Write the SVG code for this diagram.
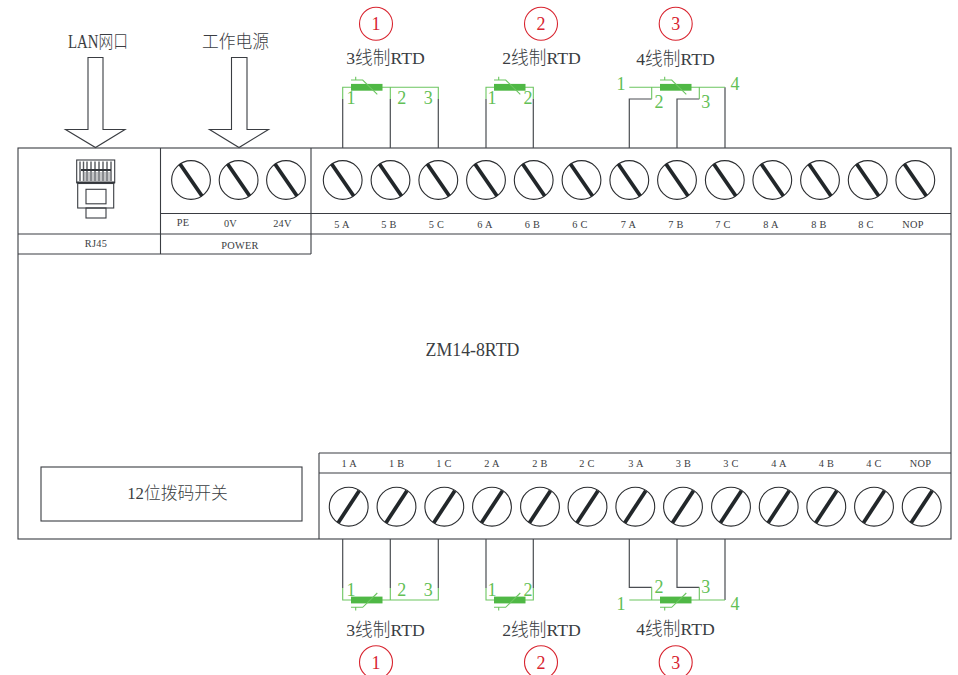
<svg xmlns="http://www.w3.org/2000/svg" width="958" height="675" viewBox="0 0 958 675">
<style>
text{font-family:"Liberation Serif","Noto Sans CJK SC",serif;text-anchor:middle}
.ln{fill:none;stroke:#3a3d42;stroke-width:1.1}
.w{fill:none;stroke:#4a4d52;stroke-width:1.2}
.g{fill:none;stroke:#6cc560;stroke-width:1.1}
.gb{fill:#4fb845;stroke:none}
.ts{font-size:10.3px;fill:#3a3d42;letter-spacing:.3px}
.tt{font-size:17.7px;fill:#3a3d42;font-weight:300}
.tg{font-size:18px;fill:#62c055}
.tr{font-size:18px;fill:#d8242f}
.rc{fill:none;stroke:#d8242f;stroke-width:1.1}
.sc{fill:#fff;stroke:#2b2d30;stroke-width:1.1}
.sl{stroke:#22272a;stroke-width:3.8}
</style>
<defs>
<g id="st"><circle class="sc" r="19.4"/><line class="sl" x1="-11" y1="-16" x2="11" y2="16"/></g>
<g id="sb"><circle class="sc" r="19.4"/><line class="sl" x1="-10.5" y1="16" x2="10.5" y2="-16"/></g>
<g id="rtd"><rect class="gb" x="0" y="-3.4" width="31.5" height="6.8"/><path class="g" d="M0-7.3H11.7L26.3 7M4.7-7.3V-10.6"/></g>
</defs>
<rect width="958" height="675" fill="#fff"/>
<g id="body">
<rect class="ln" x="18" y="148" width="933" height="391"/>
<path class="ln" d="M160.500 148V254M311 148V254M18 234H951M18 254H311M160.500 213.500H951M319 453V539M319 453H951M319 473H951"/>
</g>
<g id="rj45">
<rect class="ln" x="76.700" y="160" width="38" height="22.700"/>
<path d="M80 161.500V181M83.500 161.500V181M87 161.500V181M91 161.500V181M95 161.500V181M99 161.500V181M103 161.500V181M107 161.500V181M111 161.500V181" stroke="#55585c" stroke-width="1.400" fill="none"/>
<rect x="81" y="169" width="30" height="2" fill="#33363b"/>
<rect x="83" y="172" width="28" height="9" fill="#8a8c90" opacity=".5"/>
<rect x="76.700" y="181.500" width="38" height="2" fill="#33363b"/>
<rect class="ln" x="77.700" y="183.500" width="36" height="24.500"/>
<rect class="ln" x="86" y="189.300" width="20" height="14.500"/>
<rect class="ln" x="86" y="208" width="20" height="10"/>
<text class="ts" x="96" y="247">RJ45</text>
</g>
<g id="lan-arrow">
<path class="ln" d="M88 57.500H103V129.500H125L95.500 147.500L65.500 129.500H88Z"/>
<text class="tt" x="98" y="48" textLength="60" lengthAdjust="spacingAndGlyphs" style="font-size:18.500px">LAN网口</text>
</g>
<g id="power-arrow">
<path class="ln" d="M231.500 57.500H247V129.500H268.500L239 147.500L209.500 129.500H231.500Z"/>
<text class="tt" x="235.500" y="48" textLength="67" lengthAdjust="spacingAndGlyphs">工作电源</text>
</g>
<g id="power">
<use href="#st" x="191" y="180"/><use href="#st" x="238.600" y="180"/><use href="#st" x="286" y="180"/>
<text class="ts" x="183" y="226">PE</text><text class="ts" x="230.500" y="227">0V</text><text class="ts" x="282.500" y="227">24V</text>
<text class="ts" x="240" y="249">POWER</text>
</g>
<g id="terminals-top">
<use href="#st" x="342.700" y="180"/><use href="#st" x="390.500" y="180"/><use href="#st" x="438.300" y="180"/><use href="#st" x="486" y="180"/><use href="#st" x="533.700" y="180"/><use href="#st" x="581.500" y="180"/><use href="#st" x="629.300" y="180"/><use href="#st" x="677" y="180"/><use href="#st" x="724.800" y="180"/><use href="#st" x="772.300" y="180"/><use href="#st" x="820" y="180"/><use href="#st" x="867.700" y="180"/><use href="#st" x="915.300" y="180"/>
<text class="ts" x="342" y="228">5 A</text><text class="ts" x="389" y="228">5 B</text><text class="ts" x="436.500" y="228">5 C</text><text class="ts" x="485" y="228">6 A</text><text class="ts" x="532.500" y="228">6 B</text><text class="ts" x="580" y="228">6 C</text><text class="ts" x="628.500" y="228">7 A</text><text class="ts" x="676" y="228">7 B</text><text class="ts" x="723" y="228">7 C</text><text class="ts" x="771" y="228">8 A</text><text class="ts" x="819" y="228">8 B</text><text class="ts" x="866" y="228">8 C</text><text class="ts" x="913" y="228">NOP</text>
</g>
<g id="terminals-bottom">
<use href="#sb" x="348.700" y="506.700"/><use href="#sb" x="396.500" y="506.700"/><use href="#sb" x="444.300" y="506.700"/><use href="#sb" x="492" y="506.700"/><use href="#sb" x="540" y="506.700"/><use href="#sb" x="587.500" y="506.700"/><use href="#sb" x="635.300" y="506.700"/><use href="#sb" x="683" y="506.700"/><use href="#sb" x="731" y="506.700"/><use href="#sb" x="778.700" y="506.700"/><use href="#sb" x="826.300" y="506.700"/><use href="#sb" x="874" y="506.700"/><use href="#sb" x="921.700" y="506.700"/>
<text class="ts" x="349.300" y="467">1 A</text><text class="ts" x="396.700" y="467">1 B</text><text class="ts" x="444" y="467">1 C</text><text class="ts" x="492" y="467">2 A</text><text class="ts" x="540" y="467">2 B</text><text class="ts" x="587" y="467">2 C</text><text class="ts" x="636" y="467">3 A</text><text class="ts" x="683.500" y="467">3 B</text><text class="ts" x="731" y="467">3 C</text><text class="ts" x="779" y="467">4 A</text><text class="ts" x="826.500" y="467">4 B</text><text class="ts" x="874" y="467">4 C</text><text class="ts" x="920.500" y="467">NOP</text>
</g>
<g id="model"><text class="tt" x="472.500" y="356" style="font-size:17.800px">ZM14-8RTD</text></g>
<g id="dip-switch">
<rect class="ln" x="41" y="467" width="261" height="54"/>
<text class="tt" x="177.500" y="499" style="font-size:16.800px">12位拨码开关</text>
</g>
<g id="connectors">
<path class="w" d="M342.700 148V99M390.300 148V99M438.300 148V99M486 148V99M533.300 148V99"/>
<path class="g" d="M342.700 99V87.300H438.300V99M390.300 87.300V99M486 99V87.300H533.300V99"/>
<path class="w" d="M651.700 99H629.300V148M699.300 99H677V148M725 87.300V148"/>
<path class="g" d="M629.300 87.300H725M651.700 87.300V99M699.300 87.300V99"/>
<path class="w" d="M342.700 539V588M390.300 539V588M438.300 539V588M486 539V588M533.300 539V588"/>
<path class="g" d="M342.700 588V600H438.300V588M390.300 600V588M486 588V600H533.300V588"/>
<path class="w" d="M651.700 587.300H629.300V539M699.300 587.300H677V539M725 600V539"/>
<path class="g" d="M629.300 600H725M651.700 600V587.300M699.300 600V587.300"/>
</g>
<g id="rtd-top-1">
<use href="#rtd" x="351" y="87.300"/>
<text class="tg" x="351" y="104">1</text><text class="tg" x="401.700" y="104">2</text><text class="tg" x="428.300" y="104">3</text>
<text class="tt" x="385.500" y="64">3线制RTD</text>
<circle class="rc" cx="376" cy="23.700" r="16.500"/><text class="tr" x="376" y="30">1</text>
</g>
<g id="rtd-top-2">
<use href="#rtd" x="494" y="87.300"/>
<text class="tg" x="492" y="104">1</text><text class="tg" x="528" y="104">2</text>
<text class="tt" x="541.500" y="64">2线制RTD</text>
<circle class="rc" cx="541" cy="23.700" r="16.500"/><text class="tr" x="541" y="30">2</text>
</g>
<g id="rtd-top-3">
<use href="#rtd" x="660" y="87.300"/>
<text class="tg" x="621" y="90">1</text><text class="tg" x="659" y="108">2</text><text class="tg" x="705.700" y="108">3</text><text class="tg" x="735" y="90">4</text>
<text class="tt" x="675.500" y="65">4线制RTD</text>
<circle class="rc" cx="675.700" cy="23.700" r="16.500"/><text class="tr" x="675.700" y="30">3</text>
</g>
<g id="rtd-bottom-1">
<use href="#rtd" transform="translate(351 600) scale(1 -1)"/>
<text class="tg" x="351" y="596">1</text><text class="tg" x="401.700" y="596">2</text><text class="tg" x="428.300" y="596">3</text>
<text class="tt" x="385.500" y="636">3线制RTD</text>
<circle class="rc" cx="376" cy="662.300" r="16.500"/><text class="tr" x="376" y="668.500">1</text>
</g>
<g id="rtd-bottom-2">
<use href="#rtd" transform="translate(494 600) scale(1 -1)"/>
<text class="tg" x="492" y="596">1</text><text class="tg" x="528" y="596">2</text>
<text class="tt" x="541.500" y="636">2线制RTD</text>
<circle class="rc" cx="541" cy="662.300" r="16.500"/><text class="tr" x="541" y="668.500">2</text>
</g>
<g id="rtd-bottom-3">
<use href="#rtd" transform="translate(660 600) scale(1 -1)"/>
<text class="tg" x="621" y="610">1</text><text class="tg" x="659" y="593">2</text><text class="tg" x="705.700" y="593">3</text><text class="tg" x="735" y="610">4</text>
<text class="tt" x="675.500" y="635">4线制RTD</text>
<circle class="rc" cx="675.700" cy="662.300" r="16.500"/><text class="tr" x="675.700" y="668.500">3</text>
</g>
</svg>
